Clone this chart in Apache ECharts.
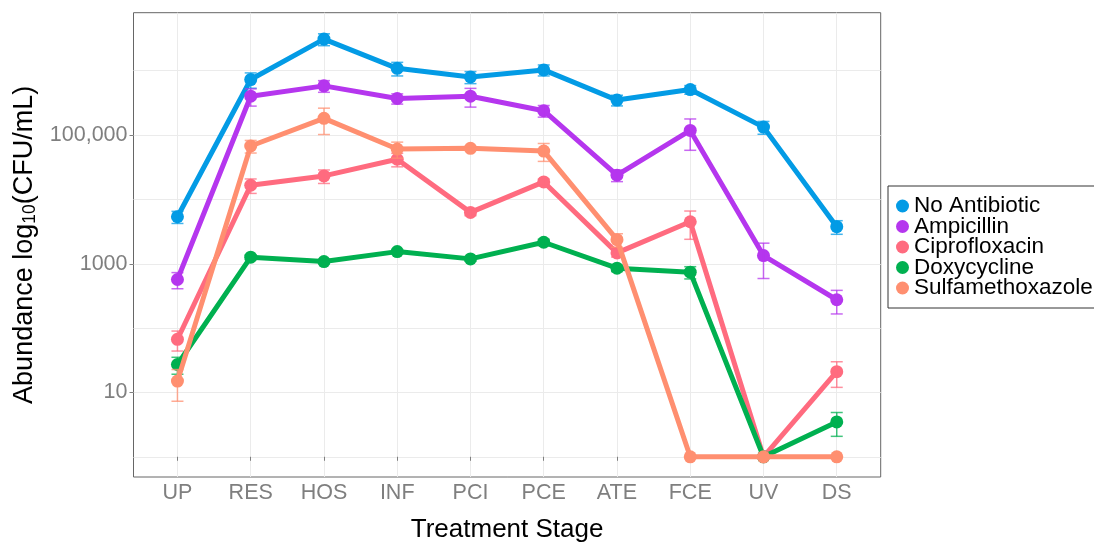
<!DOCTYPE html>
<html>
<head>
<meta charset="utf-8">
<script src="https://cdn.jsdelivr.net/npm/echarts@6/dist/echarts.min.js"></script>
<style>
  html, body { margin: 0; padding: 0; background: #fff; }
  #chart { width: 1094px; height: 548px; }
</style>
</head>
<body>
<div id="chart"></div>
<script>
// treatment stages (x axis)
var stages = ['UP', 'RES', 'HOS', 'INF', 'PCI', 'PCE', 'ATE', 'FCE', 'UV', 'DS'];

// mean abundance (CFU/mL) and standard deviation
var noAntibiotic   = [5380, 730000, 3100000, 1090000, 800000, 1030000, 350000, 510000, 133000, 3770];
var noAntibioticSd = [1150, 195000, 650000, 260000, 170000, 200000, 66000, 78000, 30000, 900];
var ampicillin     = [569, 402000, 582000, 370000, 402000, 239000, 23800, 118000, 1340, 276];
var ampicillinSd   = [160, 120000, 120000, 67000, 130000, 49000, 4900, 60000, 750, 110];
var ciprofloxacin  = [67, 16600, 23200, 42100, 6290, 18700, 1475, 4500, 1, 21];
var ciproSd        = [23, 4200, 5500, 10000, 700, 2000, 200, 2100, 0, 9];
var doxycycline    = [27.2, 1265, 1081, 1545, 1191, 2160, 855, 741, 1, 3.48];
var doxySd         = [8, 100, 80, 120, 100, 250, 100, 160, 0, 1.4];
var sulfa          = [15, 67600, 182000, 60700, 62200, 56500, 2370, 1, 1, 1];
var sulfaSd        = [7.7, 15000, 80000, 17000, 3000, 17500, 560, 0, 0, 0];

// y axis labels (log10 positions)
var yTickPos = [1, 3, 5];
var yTickLabels = ['10', '1000', '100,000'];
var yGridPos = [0, 1, 2, 3, 4, 5, 6];

var groups = [
  {name: 'No Antibiotic', color: '#039BE5', mean: noAntibiotic, sd: noAntibioticSd},
  {name: 'Ampicillin', color: '#B536EE', mean: ampicillin, sd: ampicillinSd},
  {name: 'Ciprofloxacin', color: '#FF6B7F', mean: ciprofloxacin, sd: ciproSd},
  {name: 'Doxycycline', color: '#00B050', mean: doxycycline, sd: doxySd},
  {name: 'Sulfamethoxazole', color: '#FF8F70', mean: sulfa, sd: sulfaSd}
];

function lg(v) { return Math.log10(v); }

var series = [];
groups.forEach(function (g, gi) {
  var pts = [], bars = [];
  for (var i = 0; i < stages.length; i++) {
    pts.push([i, lg(g.mean[i])]);
    if (g.sd[i] > 0) {
      bars.push([i, lg(g.mean[i] - g.sd[i]), lg(g.mean[i] + g.sd[i])]);
    }
  }
  series.push({
    name: g.name,
    type: 'line',
    data: pts,
    symbol: 'circle',
    symbolSize: 13,
    color: g.color,
    lineStyle: {width: 5, color: g.color},
    itemStyle: {color: g.color},
    z: 2 + gi * 2,
    animation: false
  });
  // error bars
  series.push({
    name: g.name + ' sd',
    type: 'custom',
    data: bars,
    z: 3 + gi * 2,
    animation: false,
    renderItem: function (params, api) {
      var x = api.value(0);
      var lo = api.coord([x, api.value(1)]);
      var hi = api.coord([x, api.value(2)]);
      var w = 6;
      var st = {stroke: g.color, lineWidth: 1.5, opacity: 0.75};
      return {
        type: 'group',
        children: [
          {type: 'line', shape: {x1: lo[0], y1: lo[1], x2: hi[0], y2: hi[1]}, style: st},
          {type: 'line', shape: {x1: lo[0] - w, y1: lo[1], x2: lo[0] + w, y2: lo[1]}, style: st},
          {type: 'line', shape: {x1: hi[0] - w, y1: hi[1], x2: hi[0] + w, y2: hi[1]}, style: st}
        ]
      };
    }
  });
});

var myChart = echarts.init(document.getElementById('chart'));
var option = {
  backgroundColor: '#fff',
  animation: false,
  grid: {
    left: 133.5, top: 12.7, right: 213.3, bottom: 69,
    show: true, borderColor: '#666', borderWidth: 1, backgroundColor: 'transparent'
  },
  legend: {
    orient: 'vertical',
    left: 888, top: 186,
    data: groups.map(function (g) { return g.name; }),
    icon: 'circle',
    itemWidth: 13, itemHeight: 13,
    itemGap: -2.5,
    itemTextGap: 4,
    padding: [8.5, 6, 8.5, 8],
    borderColor: '#333', borderWidth: 1,
    textStyle: {fontFamily: 'Liberation Sans', fontSize: 22.5, lineHeight: 21, color: '#000'}
  },
  xAxis: {
    type: 'value',
    min: -0.6, max: 9.6,
    name: 'Treatment Stage',
    nameLocation: 'middle',
    nameGap: 40,
    nameTextStyle: {fontFamily: 'Liberation Sans', fontSize: 26, color: '#000'},
    axisLine: {show: false},
    axisTick: {show: true, length: 4, lineStyle: {color: '#7f7f7f'},
      customValues: stages.map(function (s, i) { return i; })},
    axisLabel: {
      customValues: stages.map(function (s, i) { return i; }),
      formatter: function (v) { return stages[Math.round(v)]; },
      fontFamily: 'Liberation Sans', fontSize: 21.5, color: '#7f7f7f', margin: 5
    },
    splitLine: {show: true, lineStyle: {color: '#ebebeb', width: 1}}
  },
  yAxis: [
    {
      type: 'value',
      min: -0.314, max: 6.902,
      axisLine: {show: false},
      axisTick: {show: false, customValues: yGridPos},
      axisLabel: {show: false, customValues: yGridPos},
      splitLine: {show: true, lineStyle: {color: '#ebebeb', width: 1}}
    },
    {
      type: 'value',
      position: 'left',
      min: -0.314, max: 6.902,
      name: '{a|Abundance log}{s|10}{a|(CFU/mL)}',
      nameLocation: 'middle',
      nameGap: 93,
      nameTextStyle: {
        rich: {
          a: {fontFamily: 'Liberation Sans', fontSize: 27, color: '#000', lineHeight: 30},
          s: {fontFamily: 'Liberation Sans', fontSize: 17.5, color: '#000', lineHeight: 30, padding: [11, 0, 0, 0]}
        }
      },
      axisLine: {show: false},
      axisTick: {show: true, length: 4, lineStyle: {color: '#7f7f7f'}, customValues: yTickPos},
      axisLabel: {
        customValues: yTickPos,
        formatter: function (v) { return yTickLabels[yTickPos.indexOf(Math.round(v))]; },
        fontFamily: 'Liberation Sans', fontSize: 21.5, color: '#7f7f7f', margin: 6
      },
      splitLine: {show: false}
    }
  ],
  series: series
};
myChart.setOption(option);
</script>
</body>
</html>
